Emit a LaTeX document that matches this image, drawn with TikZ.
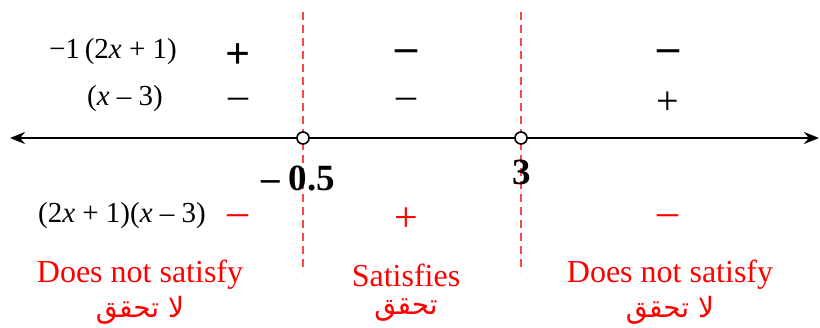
\documentclass[tikz,border=0pt]{standalone}
\usepackage{fontspec}
\setmainfont{Liberation Serif}
\newfontfamily\arabicfont[Script=Arabic]{DejaVu Sans}
\TeXXeTstate=1
\usetikzlibrary{arrows.meta}
\definecolor{signred}{RGB}{255,0,0}
\definecolor{dashred}{RGB}{250,70,70}

\begin{document}
\begin{tikzpicture}[
  x=0.5pt, y=-0.5pt,
  every node/.style={inner sep=0pt},
  rowlabel/.style={font=\fontsize{14.5}{16}\selectfont},
  boldsign/.style={font=\fontsize{22}{22}\selectfont\bfseries, yshift=-2pt},
  plainsign/.style={font=\fontsize{20}{20}\selectfont, yshift=-2pt},
  redsign/.style={font=\fontsize{21}{21}\selectfont, text=signred, yshift=-2pt},
  verdict/.style={font=\fontsize{16}{18}\selectfont, text=signred},
  arabic/.style={font=\fontsize{14}{16}\arabicfont, text=signred, yshift=-1pt},
  critical/.style={font=\fontsize{18.5}{19}\selectfont\bfseries},
  hole/.style={circle, draw, thick, fill=white, minimum size=6pt},
  arrow/.style={{Stealth[length=7.5pt, width=6pt]}-{Stealth[length=7.5pt, width=6pt]}, line width=1.1pt},
  cut/.style={dashed, dashred, line width=0.7pt, dash pattern=on 4pt off 2.5pt},
]
  \useasboundingbox (0,0) rectangle (820,327);

  % number line
  \coordinate (left) at (10,138);
  \coordinate (right) at (819,138);
  \draw[arrow] (left) -- (right);

  % critical values
  \coordinate (atop) at (303,12);
  \coordinate (abot) at (303,272);
  \coordinate (btop) at (521,12);
  \coordinate (bbot) at (521,272);
  \draw[cut] (atop) -- (abot);
  \draw[cut] (btop) -- (bbot);
  \node[hole] (ha) at (303,138) {};
  \node[hole] (hb) at (521,138) {};
  \node[critical] (va) at (298,178) {– 0.5};
  \node[critical] (vb) at (522,172) {3};

  % sign rows
  \node[rowlabel] (f1) at (113,52) {−1\,(2\textit{x} + 1)};
  \node[rowlabel] (f2) at (125,99) {(\textit{x} – 3)};
  \node[rowlabel] (f3) at (122,216) {(2\textit{x} + 1)(\textit{x} – 3)};

  \node[boldsign] (s11) at (238,52) {+};
  \node[boldsign] (s12) at (406,52) {–};
  \node[boldsign] (s13) at (668,52) {–};
  \node[plainsign] (s21) at (238,99) {–};
  \node[plainsign] (s22) at (406,99) {–};
  \node[plainsign] (s23) at (668,99) {+};
  \node[redsign] (s31) at (238,216) {–};
  \node[redsign] (s32) at (406,216) {+};
  \node[redsign] (s33) at (668,216) {–};

  % verdicts
  \node[verdict] (d1) at (140,275) {Does not satisfy};
  \node[verdict] (d2) at (406,275) {Satisfies};
  \node[verdict] (d3) at (670,275) {Does not satisfy};
  \node[arabic] (a1) at (140,308) {\beginR لا تحقق\endR};
  \node[arabic] (a2) at (406,308) {\beginR تحقق\endR};
  \node[arabic] (a3) at (670,308) {\beginR لا تحقق\endR};
\end{tikzpicture}
\end{document}
